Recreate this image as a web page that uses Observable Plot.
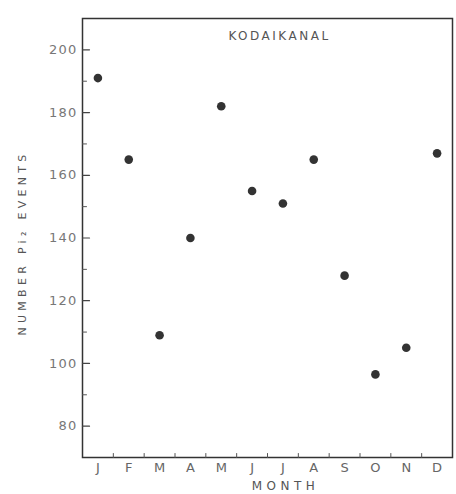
<!DOCTYPE html>
<html>
<head>
<meta charset="utf-8">
<script src="https://cdn.jsdelivr.net/npm/d3@7"></script>
<script src="https://cdn.jsdelivr.net/npm/@observablehq/plot@0.6"></script>
<style>
  html, body { margin: 0; padding: 0; background: #fff; }
</style>
</head>
<body>
<div id="chart"></div>
<script>
const months = ["J", "F", "M", "A", "M", "J", "J", "A", "S", "O", "N", "D"];
const events = [191, 165, 109, 140, 182, 155, 151, 165, 128, 96.5, 105, 167];
const yMajorTicks = [80, 100, 120, 140, 160, 180, 200];
const yMinorTicks = [90, 110, 130, 150, 170, 190];
const xBoundaries = [1.5, 2.5, 3.5, 4.5, 5.5, 6.5, 7.5, 8.5, 9.5, 10.5, 11.5];
const title = "KODAIKANAL";
const xLabel = "MONTH";
const yLabel = "NUMBER Pi\u2082 EVENTS";

const line = { draw(context, l) { context.moveTo(0, 0); context.lineTo(0, -l); } };

const chart = Plot.plot({
  width: 456,
  height: 494,
  marginLeft: 82,
  marginRight: 4,
  marginTop: 18,
  marginBottom: 37,
  style: { fontFamily: "DejaVu Sans", fontSize: "12px", color: "#555", background: "#fff" },
  x: { domain: [0.5, 12.5], axis: null },
  y: { domain: [70, 210], axis: null },
  marks: [
    Plot.frame({ stroke: "#333", strokeWidth: 1.5 }),
    Plot.vector(yMajorTicks, { y: d => d, frameAnchor: "left", rotate: 90, length: 7, anchor: "start", shape: line, stroke: "#444", strokeWidth: 1.2 }),
    Plot.vector(yMinorTicks, { y: d => d, frameAnchor: "left", rotate: 90, length: 4, anchor: "start", shape: line, stroke: "#555", strokeWidth: 1 }),
    Plot.vector(xBoundaries, { x: d => d, frameAnchor: "bottom", rotate: 0, length: 4, anchor: "start", shape: line, stroke: "#555", strokeWidth: 1 }),
    Plot.text(yMajorTicks, { y: d => d, frameAnchor: "left", dx: -5, textAnchor: "end", text: d => String(d), fill: "#777", fontSize: 13 }),
    Plot.text(months, { x: (d, i) => i + 1, frameAnchor: "bottom", dy: 5, lineAnchor: "top", text: d => d, fill: "#666", fontSize: 13 }),
    Plot.text([title], { frameAnchor: "top", dx: 12, dy: 13, text: d => d, fill: "#555", fontSize: 12 }),
    Plot.text([xLabel], { frameAnchor: "bottom", dx: 18, dy: 32, text: d => d, fill: "#555", fontSize: 12 }),
    Plot.text([yLabel], { frameAnchor: "left", textAnchor: "middle", dx: -60, dy: 5, text: d => d, rotate: -90, fill: "#555", fontSize: 11 }),
    Plot.dot(events, { x: (d, i) => i + 1, y: d => d, r: 4.3, fill: "#333", stroke: "none" })
  ]
});

const svg = d3.select(chart);
const byText = (t) => svg.selectAll("text").filter(function () { return this.textContent === t; });
byText(title).attr("letter-spacing", 2.5);
byText(xLabel).attr("letter-spacing", 4.5);
byText(yLabel).attr("letter-spacing", 4.3);
yMajorTicks.forEach(v => byText(String(v)).attr("letter-spacing", 1.2));
document.getElementById("chart").appendChild(chart);
</script>
</body>
</html>
